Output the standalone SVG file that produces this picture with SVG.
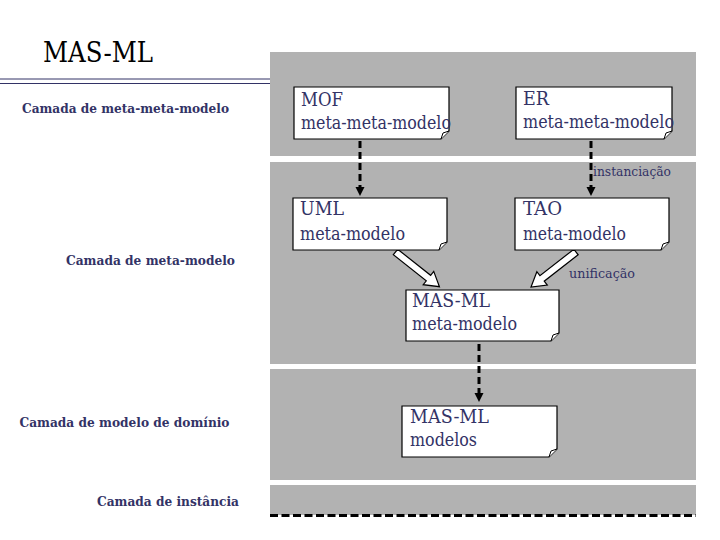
<svg xmlns="http://www.w3.org/2000/svg" width="720" height="540" viewBox="0 0 720 540">
<style>
.band{fill:#b2b2b2}
.box{fill:#fff;stroke:#000;stroke-width:1.2}
.flap{fill:#fff;stroke:#000;stroke-width:1}
.bt{font-family:'DejaVu Serif','Liberation Serif',serif;font-size:18px;fill:#333366}
.lay{font-family:'DejaVu Serif','Liberation Serif',serif;font-size:13.5px;font-weight:bold;fill:#333366}
.sm{font-family:'DejaVu Serif','Liberation Serif',serif;font-size:12.5px;fill:#333366}
.ttl{font-family:'DejaVu Serif','Liberation Serif',serif;font-size:27px;fill:#000}
.dash{stroke:#000;stroke-width:3;stroke-dasharray:7 4;fill:none}
.head{fill:#000}
.hollow{fill:#fff;stroke:#000;stroke-width:1.2}
</style>
<rect width="720" height="540" fill="#fff"/>
<g id="layers">
<rect class="band" x="270" y="52" width="426" height="104"/>
<rect class="band" x="270" y="162" width="426" height="202"/>
<rect class="band" x="270" y="369" width="426" height="111"/>
<rect class="band" x="270" y="485" width="426" height="30"/>
<line x1="270" y1="515.5" x2="696" y2="515.5" stroke="#000" stroke-width="3" stroke-dasharray="8 3.5"/>
<line x1="0" y1="79" x2="270" y2="79" stroke="#333366" stroke-width="1"/>
<line x1="0" y1="83.5" x2="270" y2="83.5" stroke="#333366" stroke-width="1"/>
</g>
<text class="ttl" x="43" y="62" textLength="110" lengthAdjust="spacingAndGlyphs">MAS-ML</text>
<g id="layer-labels">
<text class="lay" x="22" y="113" textLength="207" lengthAdjust="spacingAndGlyphs">Camada de meta-meta-modelo</text>
<text class="lay" x="66" y="265" textLength="169" lengthAdjust="spacingAndGlyphs">Camada de meta-modelo</text>
<text class="lay" x="19.5" y="427" textLength="210" lengthAdjust="spacingAndGlyphs">Camada de modelo de domínio</text>
<text class="lay" x="97" y="506" textLength="142" lengthAdjust="spacingAndGlyphs">Camada de instância</text>
</g>
<g id="connectors">
<line class="dash" x1="360" y1="141" x2="360" y2="188"/>
<polygon class="head" points="355.5,187 364.5,187 360,196"/>
<line class="dash" x1="591" y1="141" x2="591" y2="188"/>
<polygon class="head" points="586.5,187 595.5,187 591,196"/>
<line class="dash" x1="479" y1="344" x2="479" y2="394"/>
<polygon class="head" points="474.5,393 483.5,393 479,402"/>
<path class="hollow" transform="translate(395.5,252) rotate(38.3)" d="M0,-3.5 H42 V-8.5 L56,0 L42,8.5 V3.5 H0 Z"/>
<path class="hollow" transform="translate(576,252) rotate(142.1)" d="M0,-3.5 H43 V-8.5 L57,0 L43,8.5 V3.5 H0 Z"/>
<text class="sm" x="593" y="176" textLength="78" lengthAdjust="spacingAndGlyphs">instanciação</text>
<text class="sm" x="569" y="278" textLength="66" lengthAdjust="spacingAndGlyphs">unificação</text>
</g>
<g id="mof">
<path class="box" d="M294,87 H449 V131 L441,139 H294 Z"/>
<path class="flap" d="M441,139 L443,133 L449,131"/>
<text class="bt" x="301" y="106" textLength="42" lengthAdjust="spacingAndGlyphs">MOF</text>
<text class="bt" x="301" y="129" textLength="150" lengthAdjust="spacingAndGlyphs">meta-meta-modelo</text>
</g>
<g id="er">
<path class="box" d="M516,87 H672 V131 L664,139 H516 Z"/>
<path class="flap" d="M664,139 L666,133 L672,131"/>
<text class="bt" x="523" y="105" textLength="26" lengthAdjust="spacingAndGlyphs">ER</text>
<text class="bt" x="523" y="128" textLength="151" lengthAdjust="spacingAndGlyphs">meta-meta-modelo</text>
</g>
<g id="uml">
<path class="box" d="M293,198 H447 V242 L439,250 H293 Z"/>
<path class="flap" d="M439,250 L441,244 L447,242"/>
<text class="bt" x="300" y="215" textLength="44" lengthAdjust="spacingAndGlyphs">UML</text>
<text class="bt" x="300" y="240" textLength="105" lengthAdjust="spacingAndGlyphs">meta-modelo</text>
</g>
<g id="tao">
<path class="box" d="M515,198 H669 V242 L661,250 H515 Z"/>
<path class="flap" d="M661,250 L663,244 L669,242"/>
<text class="bt" x="523" y="215" textLength="39" lengthAdjust="spacingAndGlyphs">TAO</text>
<text class="bt" x="523" y="240" textLength="103" lengthAdjust="spacingAndGlyphs">meta-modelo</text>
</g>
<g id="masml-meta">
<path class="box" d="M406,290 H559 V333 L551,341 H406 Z"/>
<path class="flap" d="M551,341 L553,335 L559,333"/>
<text class="bt" x="412" y="307" textLength="78" lengthAdjust="spacingAndGlyphs">MAS-ML</text>
<text class="bt" x="412" y="330" textLength="105" lengthAdjust="spacingAndGlyphs">meta-modelo</text>
</g>
<g id="masml-modelos">
<path class="box" d="M402,406 H557 V449 L549,457 H402 Z"/>
<path class="flap" d="M549,457 L551,451 L557,449"/>
<text class="bt" x="410" y="423" textLength="79" lengthAdjust="spacingAndGlyphs">MAS-ML</text>
<text class="bt" x="410" y="446" textLength="67" lengthAdjust="spacingAndGlyphs">modelos</text>
</g>
</svg>
